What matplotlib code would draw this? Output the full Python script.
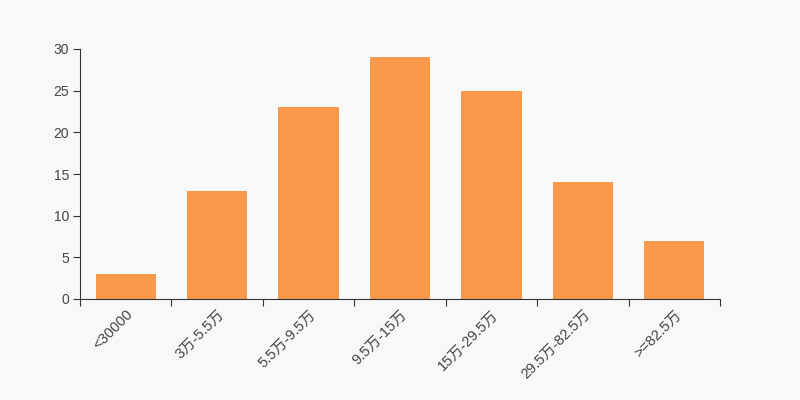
import numpy as np
import matplotlib.pyplot as plt

plt.rcParams['font.family'] = ['Liberation Sans', 'Noto Sans CJK SC', 'DejaVu Sans']

categories = ['<30000', '3万-5.5万', '5.5万-9.5万', '9.5万-15万', '15万-29.5万', '29.5万-82.5万', '>=82.5万']
values = [3, 13, 23, 29, 25, 14, 7]
yticks = [0, 5, 10, 15, 20, 25, 30]

fig = plt.figure(figsize=(8, 4), dpi=100, facecolor='#f8f8f8')
ax = fig.add_axes([0.1, 0.2525, 0.8, 0.625])
ax.set_facecolor('#f8f8f8')

x = np.arange(len(categories))
ax.bar(x, values, width=0.66, color='#f7984a')

ax.set_xlim(-0.5, len(categories) - 0.5)
ax.set_ylim(0, 30)
ax.set_yticks(yticks)

# category ticks sit on the boundaries, labels at the centres
ax.set_xticks(np.arange(len(categories) + 1) - 0.5)
ax.set_xticklabels([])
ax.set_xticks(x, minor=True)
ax.set_xticklabels(categories, minor=True, rotation=45, ha='right', va='top',
                   rotation_mode='anchor', fontsize=10.5, color='#444444')
ax.tick_params(axis='x', which='minor', length=0, pad=6)
ax.tick_params(axis='x', which='major', length=5, color='#333333')
ax.tick_params(axis='y', length=5, color='#333333', labelcolor='#444444', labelsize=10, pad=3)

for s in ['top', 'right']:
    ax.spines[s].set_visible(False)
for s in ['left', 'bottom']:
    ax.spines[s].set_color('#333333')

fig.savefig('out.png', dpi=100, facecolor='#f8f8f8')
